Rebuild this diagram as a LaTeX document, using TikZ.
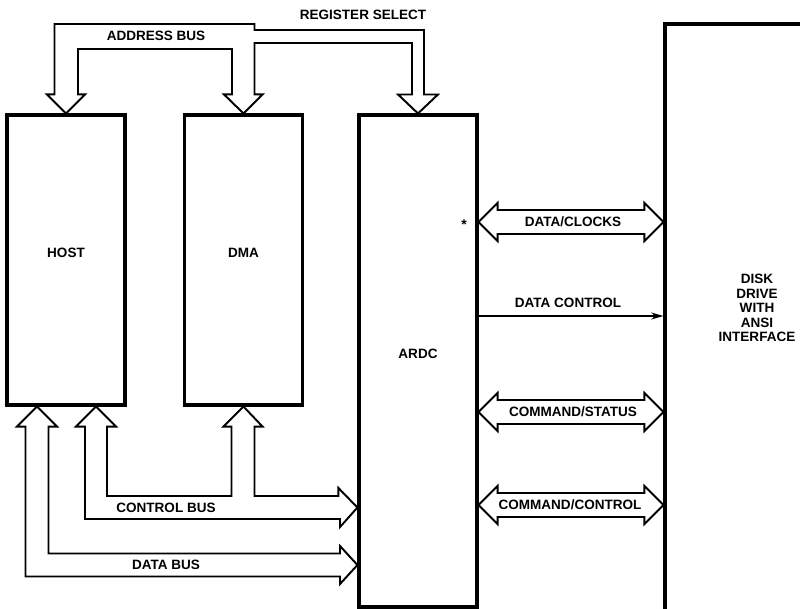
\documentclass[tikz,border=0pt]{standalone}
\usepackage{fontspec}
\setsansfont{Liberation Sans}
\usetikzlibrary{arrows.meta,positioning,calc}

\tikzset{
  blk/.style={draw, line width=1.8pt, minimum width=2.36cm, inner sep=0pt},
  bus/.style={draw, line width=1.1pt, line join=miter},
  ptr/.style={-{Stealth[length=7pt,width=4pt]}, line width=0.9pt},
  lbl/.style={font=\sffamily\bfseries\fontsize{7.7}{8.3}\selectfont, inner sep=1pt},
  boxlbl/.style={label={[lbl,yshift=4pt]center:#1}},
}
% two-way bus between ARDC and the drive, at the height of node #1
\newcommand\twoway[1]{%
  \draw[bus] (ardc.east |- #1) -- ++(19,-19) -- ++(0,7) -- ($(disk.west |- #1)+(-19,-12)$)
    -- ++(0,-7) -- (disk.west |- #1) -- ++(-19,19) -- ++(0,-7) -- ($(ardc.east |- #1)+(19,12)$)
    -- ++(0,7) -- cycle;}

\begin{document}
\begin{tikzpicture}[x=0.02cm,y=-0.02cm]
  \useasboundingbox (0,0) rectangle (800,608);
  \clip (0,0) rectangle (800,608);
  % blocks
  \node[blk, minimum height=5.8cm, boxlbl=HOST] (host) at (66,260) {};
  \node[blk, minimum height=5.8cm, boxlbl=DMA] (dma) at (243.5,260) {};
  \node[blk, minimum height=9.84cm, boxlbl=ARDC] (ardc) at (418,361) {};
  \node[blk, minimum width=4.7cm, minimum height=13.52cm] (disk) at (782.5,362) {};
  \node[lbl, align=center] (disklbl) at (757,308) {DISK\\DRIVE\\WITH\\ANSI\\INTERFACE};

  % address bus / register select
  \node[lbl] (addr) at (156,36) {ADDRESS BUS};
  \node[lbl] (regsel) at (363,15) {REGISTER SELECT};
  \draw[bus] (host.north) -- ++(-19,-19) -- ++(7.5,0) |- (254.5,24) -- (254.5,30)
    -| ($(ardc.north)+(6,-19)$) -- ++(14,0) -- (ardc.north) -- ++(-20,-19) -- ++(14,0)
    |- (254.5,43) -- ($(dma.north)+(11,-19)$) -- ++(8,0) -- (dma.north) -- ++(-19.5,-19) -- ++(8,0)
    |- (78,49) -- ($(host.north)+(12,-19)$) -- ++(7,0) -- cycle;

  % control bus
  \node[lbl] (ctlbus) at (166,507.5) {CONTROL BUS};
  \draw[bus] ($(host.south)+(30,0)$) -- ++(-20,20) -- ++(9,0) |- (340,519) -- ++(0,8)
    -- (ardc.west |- ctlbus) -- ++(-19,-19.5) -- ++(0,8) -| ($(dma.south)+(11,20)$) -- ++(8,0)
    -- (dma.south) -- ++(-20,20) -- ++(8,0) |- (107,496) -- ($(host.south)+(41,20)$) -- ++(9,0) -- cycle;

  % data bus
  \node[lbl] (databus) at (166,565) {DATA BUS};
  \draw[bus] ($(host.south)+(-29,0)$) -- ++(-20,20) -- ++(8.5,0) |- (340,576.5) -- (340,584)
    -- (ardc.west |- databus) -- (340,546) -- (340,553.5) -| ($(host.south)+(-17.5,20)$)
    -- ++(8.5,0) -- cycle;

  % drive interface
  \node[font=\sffamily\bfseries\fontsize{8}{8}\selectfont, inner sep=0pt] (star) at (464,225) {*};
  \node[lbl] (clk) at (573,222) {DATA/CLOCKS};
  \twoway{clk}
  \node[lbl] (dctl) at (568,303) {DATA CONTROL};
  \draw[ptr] ($(ardc.east |- dctl)+(0,13)$) -- ($(disk.west |- dctl)+(0,13)$);
  \node[lbl] (cstat) at (573,412) {COMMAND/STATUS};
  \twoway{cstat}
  \node[lbl] (cctl) at (570,505) {COMMAND/CONTROL};
  \twoway{cctl}
\end{tikzpicture}
\end{document}
